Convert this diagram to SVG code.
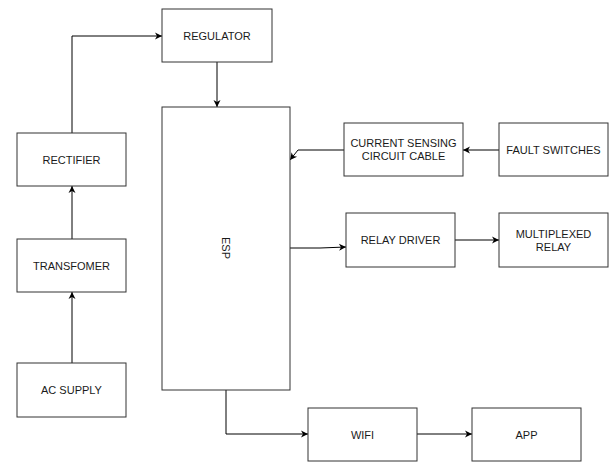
<svg xmlns="http://www.w3.org/2000/svg" width="613" height="462" viewBox="0 0 613 462">
<defs>
<marker id="ah" markerWidth="10" markerHeight="10" refX="8" refY="5" orient="auto" markerUnits="userSpaceOnUse">
<path d="M1,1.5 L8,5 L1,8.5 L3,5 Z" fill="#000"/>
</marker>
<style>
.box{fill:#fff;stroke:#333;stroke-width:1}
.t{font-family:"Liberation Sans",Arial,sans-serif;font-size:11px;fill:#1a1a1a;text-anchor:middle;dominant-baseline:central}
.c{fill:none;stroke:#000;stroke-width:1;marker-end:url(#ah)}
</style>
</defs>
<rect width="613" height="462" fill="#fff"/>
<g id="connectors">
<path class="c" d="M72,133 V36 H162"/>
<path class="c" d="M217,62 V107"/>
<path class="c" d="M72,239 V186"/>
<path class="c" d="M72,363 V292"/>
<path class="c" d="M499,150 H463"/>
<path class="c" d="M344,150 H298 L290,160"/>
<path class="c" d="M290,248 H320 L346,247"/>
<path class="c" d="M455,240 H499"/>
<path class="c" d="M226,390 V434 H308"/>
<path class="c" d="M417,434 H472"/>
</g>
<g id="regulator"><rect class="box" x="162" y="9" width="110" height="53"/><text class="t" x="217" y="35.5">REGULATOR</text></g>
<g id="esp"><rect class="box" x="162" y="107" width="128" height="283"/><text class="t" transform="translate(226,248) rotate(90)">ESP</text></g>
<g id="rectifier"><rect class="box" x="17" y="133" width="109" height="53"/><text class="t" x="71.5" y="159.5">RECTIFIER</text></g>
<g id="transfomer"><rect class="box" x="17" y="239" width="109" height="53"/><text class="t" x="71.5" y="265.5">TRANSFOMER</text></g>
<g id="acsupply"><rect class="box" x="17" y="363" width="109" height="54"/><text class="t" x="71.5" y="390">AC SUPPLY</text></g>
<g id="currentsensing"><rect class="box" x="344" y="123" width="119" height="53"/><text class="t" x="403.5" y="143">CURRENT SENSING</text><text class="t" x="403.5" y="156">CIRCUIT CABLE</text></g>
<g id="faultswitches"><rect class="box" x="499" y="123" width="109" height="53"/><text class="t" x="553.5" y="149.5">FAULT SWITCHES</text></g>
<g id="relaydriver"><rect class="box" x="346" y="213" width="109" height="54"/><text class="t" x="400.5" y="240">RELAY DRIVER</text></g>
<g id="multiplexedrelay"><rect class="box" x="499" y="213" width="109" height="54"/><text class="t" x="553.5" y="233.5">MULTIPLEXED</text><text class="t" x="553.5" y="246.5">RELAY</text></g>
<g id="wifi"><rect class="box" x="308" y="408" width="109" height="53"/><text class="t" x="362.5" y="434.5">WIFI</text></g>
<g id="app"><rect class="box" x="472" y="408" width="109" height="53"/><text class="t" x="526.5" y="434.5">APP</text></g>
</svg>
